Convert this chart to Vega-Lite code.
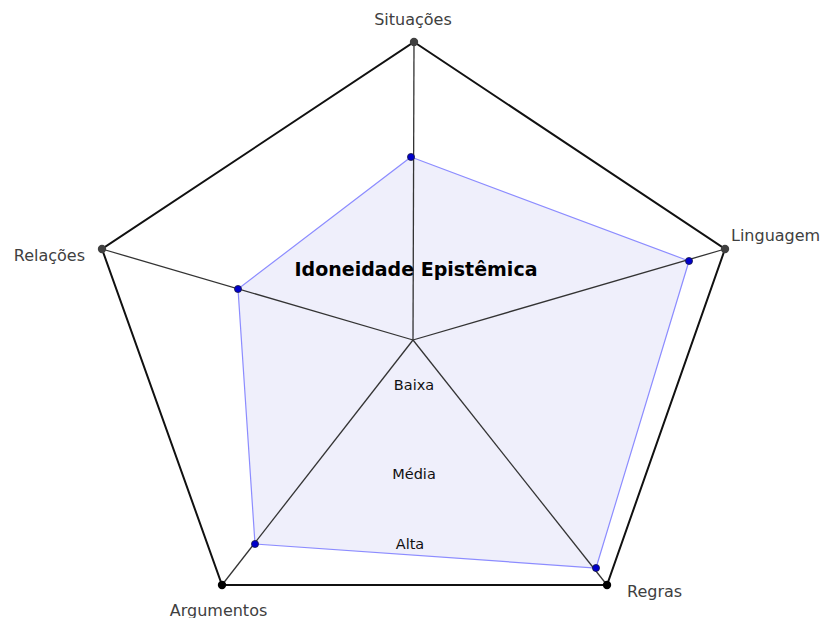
{
  "$schema": "https://vega.github.io/schema/vega-lite/v6.json",
  "width": 821,
  "height": 618,
  "padding": 0,
  "autosize": {"type": "none"},
  "background": "white",
  "config": {"view": {"stroke": null}},
  "datasets": {
    "outer": [
      {"name": "Situações", "order": 1, "x": 1, "y": 298},
      {"name": "Linguagem", "order": 2, "x": 312, "y": 91},
      {"name": "Regras", "order": 3, "x": 194, "y": -245},
      {"name": "Argumentos", "order": 4, "x": -191, "y": -245},
      {"name": "Relações", "order": 5, "x": -311, "y": 91}
    ],
    "inner": [
      {"name": "Situações", "order": 1, "x": -2, "y": 183},
      {"name": "Linguagem", "order": 2, "x": 276, "y": 79},
      {"name": "Regras", "order": 3, "x": 183, "y": -228},
      {"name": "Argumentos", "order": 4, "x": -158, "y": -204},
      {"name": "Relações", "order": 5, "x": -175, "y": 51}
    ],
    "labels": [
      {"text": "Situações", "x": 0, "y": 320, "pos": "center", "tone": "gray"},
      {"text": "Linguagem", "x": 318, "y": 104, "pos": "left", "tone": "gray"},
      {"text": "Relações", "x": -328, "y": 84, "pos": "right", "tone": "gray"},
      {"text": "Regras", "x": 214, "y": -252, "pos": "left", "tone": "black"},
      {"text": "Argumentos", "x": -194.5, "y": -271, "pos": "center", "tone": "black"}
    ],
    "levels": [
      {"text": "Baixa", "x": 1, "y": -46},
      {"text": "Média", "x": 1, "y": -135},
      {"text": "Alta", "x": -3, "y": -205}
    ],
    "title": [
      {"text": "Idoneidade Epistêmica", "x": 3, "y": 70}
    ]
  },
  "encoding": {
    "x": {"field": "x", "type": "quantitative", "scale": {"domain": [-413, 408], "nice": false, "zero": false}, "axis": null},
    "y": {"field": "y", "type": "quantitative", "scale": {"domain": [-278, 340], "nice": false, "zero": false}, "axis": null}
  },
  "layer": [
    {
      "data": {"name": "inner"},
      "mark": {"type": "line", "interpolate": "linear-closed", "fill": "#efeffb", "fillOpacity": 1, "stroke": "#8c8cff", "strokeWidth": 1.2},
      "encoding": {"order": {"field": "order", "type": "quantitative"}}
    },
    {
      "data": {"name": "outer"},
      "mark": {"type": "rule", "color": "#333333", "strokeWidth": 1.3},
      "encoding": {
        "x": {"datum": 0, "type": "quantitative"},
        "y": {"datum": 0, "type": "quantitative"},
        "x2": {"field": "x"},
        "y2": {"field": "y"}
      }
    },
    {
      "data": {"name": "outer"},
      "mark": {"type": "line", "interpolate": "linear-closed", "stroke": "#111111", "strokeWidth": 2},
      "encoding": {"order": {"field": "order", "type": "quantitative"}}
    },
    {
      "data": {"name": "outer"},
      "mark": {"type": "point", "filled": true, "size": 70, "opacity": 1},
      "encoding": {
        "color": {"field": "name", "type": "nominal", "legend": null,
          "scale": {"domain": ["Situações", "Linguagem", "Regras", "Argumentos", "Relações"], "range": ["#404040", "#404040", "#000000", "#000000", "#404040"]}}
      }
    },
    {
      "data": {"name": "inner"},
      "mark": {"type": "point", "filled": true, "size": 50, "opacity": 1, "color": "#0000cc", "stroke": "#1a1a40", "strokeWidth": 0.8}
    },
    {
      "data": {"name": "labels"},
      "transform": [{"filter": "datum.pos == 'center'"}],
      "mark": {"type": "text", "align": "center", "baseline": "middle", "font": "DejaVu Sans", "fontSize": 16},
      "encoding": {
        "text": {"field": "text"},
        "color": {"field": "tone", "type": "nominal", "legend": null, "scale": {"domain": ["gray", "black"], "range": ["#555555", "#111111"]}}
      }
    },
    {
      "data": {"name": "labels"},
      "transform": [{"filter": "datum.pos == 'left'"}],
      "mark": {"type": "text", "align": "left", "baseline": "middle", "font": "DejaVu Sans", "fontSize": 16},
      "encoding": {
        "text": {"field": "text"},
        "color": {"field": "tone", "type": "nominal", "legend": null, "scale": {"domain": ["gray", "black"], "range": ["#555555", "#111111"]}}
      }
    },
    {
      "data": {"name": "labels"},
      "transform": [{"filter": "datum.pos == 'right'"}],
      "mark": {"type": "text", "align": "right", "baseline": "middle", "font": "DejaVu Sans", "fontSize": 16},
      "encoding": {
        "text": {"field": "text"},
        "color": {"field": "tone", "type": "nominal", "legend": null, "scale": {"domain": ["gray", "black"], "range": ["#555555", "#111111"]}}
      }
    },
    {
      "data": {"name": "levels"},
      "mark": {"type": "text", "align": "center", "baseline": "middle", "font": "DejaVu Sans", "fontSize": 14.5, "color": "#111111"},
      "encoding": {"text": {"field": "text"}}
    },
    {
      "data": {"name": "title"},
      "mark": {"type": "text", "align": "center", "baseline": "middle", "font": "DejaVu Sans", "fontSize": 19, "fontWeight": "bold", "color": "#000000"},
      "encoding": {"text": {"field": "text"}}
    }
  ]
}
